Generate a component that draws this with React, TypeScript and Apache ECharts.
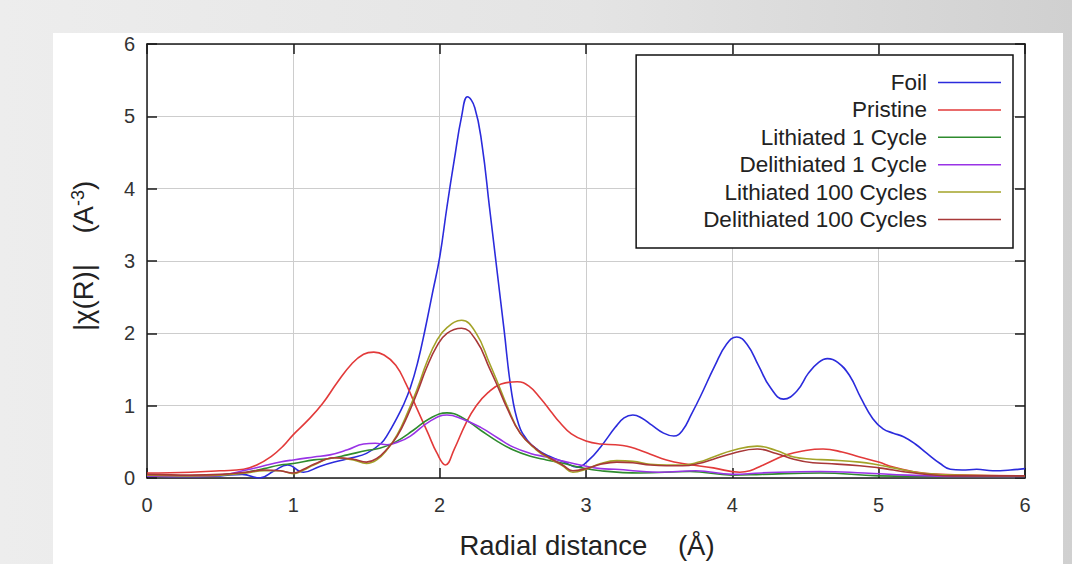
import { useEffect, useRef } from "react";
import * as echarts from "echarts";

// |χ(R)| magnitude of the Fourier-transformed EXAFS signal, pairs of [R (Å), |χ(R)| (Å^-3)]
const foil: [number, number][] = [
  [0, 0.03], [0.3, 0.02], [0.5, 0.03], [0.65, 0.05], [0.77, 0.0], [0.87, 0.1], [0.96, 0.18],
  [1.07, 0.08], [1.18, 0.16], [1.28, 0.22], [1.4, 0.28], [1.5, 0.34], [1.6, 0.48], [1.65, 0.62],
  [1.7, 0.8], [1.75, 1.0], [1.8, 1.25], [1.85, 1.6], [1.9, 2.05], [1.95, 2.55], [2.0, 3.05],
  [2.05, 3.75], [2.1, 4.4], [2.15, 5.0], [2.19, 5.27], [2.24, 5.12], [2.29, 4.6], [2.34, 3.75],
  [2.39, 2.9], [2.44, 2.05], [2.49, 1.2], [2.54, 0.74], [2.6, 0.52], [2.67, 0.39], [2.75, 0.3],
  [2.85, 0.22], [2.94, 0.15], [3.02, 0.25], [3.1, 0.43], [3.2, 0.7], [3.26, 0.83], [3.32, 0.87],
  [3.38, 0.83], [3.45, 0.73], [3.53, 0.62], [3.6, 0.58], [3.66, 0.66], [3.72, 0.88], [3.78, 1.12],
  [3.88, 1.55], [3.96, 1.85], [4.03, 1.95], [4.1, 1.85], [4.18, 1.55], [4.26, 1.25], [4.35, 1.09],
  [4.44, 1.2], [4.52, 1.45], [4.59, 1.6], [4.65, 1.65], [4.72, 1.6], [4.8, 1.42], [4.88, 1.1],
  [4.96, 0.82], [5.03, 0.68], [5.1, 0.62], [5.17, 0.57], [5.25, 0.47], [5.33, 0.34], [5.42, 0.2],
  [5.49, 0.12], [5.57, 0.11], [5.67, 0.12], [5.78, 0.1], [5.9, 0.11], [6.0, 0.13],
];

const pristine: [number, number][] = [
  [0, 0.07], [0.3, 0.08], [0.5, 0.1], [0.66, 0.12], [0.75, 0.18], [0.85, 0.3], [0.93, 0.44],
  [1.0, 0.6], [1.1, 0.8], [1.2, 1.03], [1.3, 1.32], [1.4, 1.58], [1.48, 1.71], [1.55, 1.74],
  [1.62, 1.7], [1.7, 1.56], [1.77, 1.3], [1.84, 0.98], [1.92, 0.62], [1.98, 0.35], [2.04, 0.18],
  [2.1, 0.4], [2.18, 0.76], [2.25, 1.0], [2.33, 1.18], [2.42, 1.3], [2.53, 1.33], [2.61, 1.27],
  [2.69, 1.1], [2.76, 0.92], [2.82, 0.77], [2.9, 0.61], [3.0, 0.51], [3.1, 0.47], [3.2, 0.46],
  [3.28, 0.44], [3.36, 0.39], [3.44, 0.33], [3.55, 0.25], [3.66, 0.2], [3.87, 0.14], [4.05, 0.08],
  [4.12, 0.1], [4.2, 0.17], [4.37, 0.32], [4.5, 0.38], [4.62, 0.4], [4.75, 0.36], [4.87, 0.29],
  [5.0, 0.22], [5.1, 0.15], [5.33, 0.06], [5.6, 0.04], [6.0, 0.03],
];

const lithiated1: [number, number][] = [
  [0, 0.04], [0.3, 0.03], [0.5, 0.04], [0.68, 0.08], [0.8, 0.13], [0.91, 0.18], [1.0, 0.2],
  [1.14, 0.25], [1.25, 0.27], [1.37, 0.32], [1.5, 0.38], [1.59, 0.41], [1.7, 0.5], [1.82, 0.66],
  [1.93, 0.82], [2.05, 0.9], [2.15, 0.84], [2.28, 0.66], [2.4, 0.5], [2.5, 0.39], [2.62, 0.3],
  [2.73, 0.25], [2.85, 0.2], [2.95, 0.15], [3.1, 0.1], [3.37, 0.07], [3.71, 0.09], [4.0, 0.04],
  [4.2, 0.05], [4.6, 0.07], [5.0, 0.03], [5.5, 0.02], [6.0, 0.02],
];

const delithiated1: [number, number][] = [
  [0, 0.03], [0.3, 0.02], [0.5, 0.04], [0.68, 0.11], [0.8, 0.17], [0.91, 0.22], [1.0, 0.25],
  [1.14, 0.29], [1.25, 0.32], [1.37, 0.39], [1.48, 0.47], [1.56, 0.48], [1.64, 0.46], [1.72, 0.5],
  [1.8, 0.58], [1.93, 0.78], [2.05, 0.87], [2.15, 0.82], [2.28, 0.7], [2.4, 0.55], [2.5, 0.43],
  [2.62, 0.34], [2.73, 0.29], [2.85, 0.23], [2.96, 0.18], [3.1, 0.13], [3.2, 0.12], [3.5, 0.08],
  [3.75, 0.1], [4.0, 0.05], [4.2, 0.07], [4.6, 0.09], [4.9, 0.07], [5.2, 0.04], [5.6, 0.02],
  [6.0, 0.02],
];

const lithiated100: [number, number][] = [
  [0, 0.04], [0.3, 0.03], [0.5, 0.04], [0.68, 0.07], [0.8, 0.1], [0.91, 0.1], [1.0, 0.06],
  [1.07, 0.11], [1.14, 0.18], [1.28, 0.28], [1.41, 0.25], [1.5, 0.2], [1.57, 0.25], [1.64, 0.39],
  [1.71, 0.6], [1.78, 0.9], [1.85, 1.25], [1.91, 1.59], [1.98, 1.9], [2.05, 2.08], [2.15, 2.18],
  [2.25, 2.0], [2.34, 1.59], [2.4, 1.3], [2.46, 1.0], [2.55, 0.62], [2.66, 0.39], [2.75, 0.27],
  [2.84, 0.17], [2.91, 0.08], [3.0, 0.12], [3.1, 0.2], [3.21, 0.24], [3.32, 0.23], [3.44, 0.19],
  [3.55, 0.18], [3.66, 0.18], [3.77, 0.22], [3.87, 0.29], [4.0, 0.38], [4.17, 0.44], [4.3, 0.38],
  [4.42, 0.29], [4.55, 0.26], [4.65, 0.25], [4.87, 0.22], [5.0, 0.18], [5.1, 0.14], [5.2, 0.1],
  [5.33, 0.06], [5.5, 0.04], [6.0, 0.03],
];

const delithiated100: [number, number][] = [
  [0, 0.05], [0.3, 0.04], [0.5, 0.05], [0.68, 0.08], [0.8, 0.11], [0.91, 0.1], [1.0, 0.07],
  [1.07, 0.12], [1.14, 0.19], [1.28, 0.28], [1.41, 0.26], [1.5, 0.22], [1.57, 0.27], [1.64, 0.4],
  [1.71, 0.58], [1.78, 0.86], [1.85, 1.2], [1.91, 1.52], [1.98, 1.82], [2.05, 2.0], [2.15, 2.07],
  [2.25, 1.9], [2.34, 1.52], [2.4, 1.25], [2.46, 0.97], [2.55, 0.62], [2.66, 0.4], [2.75, 0.28],
  [2.84, 0.18], [2.91, 0.1], [3.0, 0.13], [3.1, 0.19], [3.21, 0.22], [3.32, 0.21], [3.44, 0.18],
  [3.55, 0.17], [3.66, 0.17], [3.77, 0.2], [3.87, 0.26], [4.0, 0.34], [4.17, 0.4], [4.3, 0.34],
  [4.42, 0.26], [4.55, 0.21], [4.65, 0.2], [4.87, 0.17], [5.0, 0.14], [5.1, 0.11], [5.2, 0.08],
  [5.33, 0.05], [5.5, 0.03], [6.0, 0.03],
];

const seriesNames = [
  "Foil",
  "Pristine",
  "Lithiated 1 Cycle",
  "Delithiated 1 Cycle",
  "Lithiated 100 Cycles",
  "Delithiated 100 Cycles",
];
const seriesData = [foil, pristine, lithiated1, delithiated1, lithiated100, delithiated100];
const seriesColors = ["#2b2bdc", "#e23a3a", "#2e8b2e", "#9933e6", "#a3a328", "#a83838"];

const FONT = "'Liberation Sans', Arial, Helvetica, sans-serif";
const AXIS_COLOR = "#1a1a1a";

export default function App() {
  const ref = useRef<HTMLDivElement>(null);

  useEffect(() => {
    document.body.style.margin = "0";
    const chart = echarts.init(ref.current!, null, { renderer: "svg" });

    const axisLine = { show: true, onZero: false, lineStyle: { color: AXIS_COLOR, width: 1.5 } };
    const axisTick = { show: true, inside: true, length: 10, lineStyle: { color: AXIS_COLOR, width: 1.5 } };
    const splitLine = { show: true, lineStyle: { color: "#cdcdcd", width: 1 } };

    chart.setOption({
      animation: false,
      backgroundColor: "transparent",
      textStyle: { fontFamily: FONT },
      grid: { left: 147, top: 44, width: 878, height: 434, containLabel: false },
      xAxis: [
        {
          type: "value", min: 0, max: 6, interval: 1, position: "bottom",
          axisLine, axisTick, splitLine,
          axisLabel: { fontSize: 20, color: "#333", margin: 17, fontFamily: FONT },
        },
        {
          type: "value", min: 0, max: 6, interval: 1, position: "top",
          axisLine, axisTick, splitLine: { show: false }, axisLabel: { show: false },
        },
      ],
      yAxis: [
        {
          type: "value", min: 0, max: 6, interval: 1, position: "left",
          axisLine, axisTick, splitLine,
          axisLabel: { fontSize: 20, color: "#333", margin: 12, fontFamily: FONT },
        },
        {
          type: "value", min: 0, max: 6, interval: 1, position: "right",
          axisLine, axisTick, splitLine: { show: false }, axisLabel: { show: false },
        },
      ],
      legend: {
        orient: "vertical",
        right: 59,
        top: 55,
        align: "right",
        icon: "rect",
        itemWidth: 63,
        itemHeight: 1.5,
        itemGap: 4.4,
        padding: [16, 12, 17, 67],
        backgroundColor: "#fff",
        borderColor: "#111",
        borderWidth: 1.5,
        borderRadius: 0,
        textStyle: { fontSize: 22.5, lineHeight: 22, color: "#222", fontFamily: FONT, padding: [0, 6, 0, 0] },
        data: seriesNames,
      },
      graphic: [
        {
          type: "text",
          x: 587,
          y: 545,
          style: {
            text: "Radial distance    (Å)",
            fontSize: 27.5,
            fontFamily: FONT,
            fill: "#222",
            align: "center",
            verticalAlign: "middle",
          },
        },
        {
          type: "text",
          x: 83,
          y: 256,
          rotation: Math.PI / 2,
          style: {
            text: "|χ(R)|    (A{sup|-3})",
            fontSize: 27.5,
            fontFamily: FONT,
            fill: "#222",
            align: "center",
            verticalAlign: "middle",
            rich: {
              sup: { fontSize: 18, lineHeight: 14, fontFamily: FONT, fill: "#222", verticalAlign: "top" },
            },
          },
        },
      ],
      series: seriesNames.map((name, i) => ({
        name,
        type: "line",
        xAxisIndex: 0,
        yAxisIndex: 0,
        data: seriesData[i],
        smooth: 0.45,
        symbol: "none",
        showSymbol: false,
        color: seriesColors[i],
        itemStyle: { color: seriesColors[i] },
        lineStyle: { color: seriesColors[i], width: 1.6 },
        emphasis: { disabled: true },
      })),
    });

    return () => chart.dispose();
  }, []);

  return (
    <div
      style={{
        position: "relative",
        width: 1072,
        height: 564,
        overflow: "hidden",
        background: "linear-gradient(to right, #ededed 0%, #e4e4e4 55%, #d0d0d0 100%)",
      }}
    >
      <div style={{ position: "absolute", left: 53, top: 33, width: 1010, height: 531, background: "#fff" }} />
      <div ref={ref} style={{ position: "absolute", left: 0, top: 0, width: 1072, height: 564 }} />
    </div>
  );
}
